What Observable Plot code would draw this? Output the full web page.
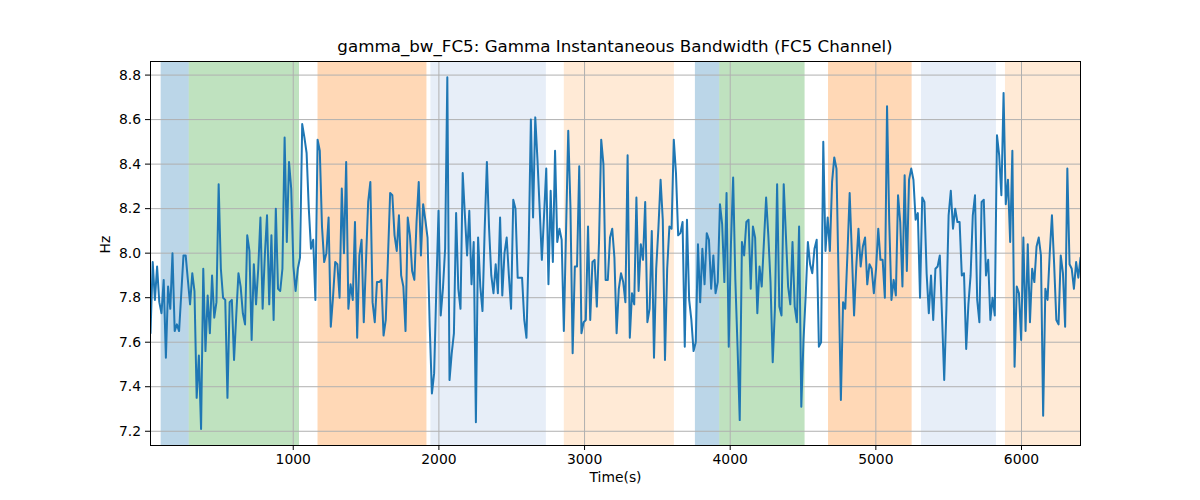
<!DOCTYPE html>
<html><head><meta charset="utf-8">
<script src="https://cdn.jsdelivr.net/npm/d3@7"></script>
<script src="https://cdn.jsdelivr.net/npm/@observablehq/plot@0.6"></script>
<style>
body{margin:0;background:#fff;font-family:"DejaVu Sans",sans-serif;}
#title{position:absolute;top:36px;left:0;width:1200px;box-sizing:border-box;padding-left:30px;text-align:center;font-size:16.7px;line-height:20px;color:#000;z-index:2;}
#chart{position:absolute;top:50px;left:0;z-index:1;}
</style></head><body>
<div id="chart"></div>
<div id="title">gamma_bw_FC5: Gamma Instantaneous Bandwidth (FC5 Channel)</div>
<script>
// Sampling grid (seconds)
const tStart = 20;
const tStep = 15.095;

// Gamma instantaneous bandwidth values (Hz)
const values = [
// 20 .. ~1060
7.64, 7.96, 7.79, 7.94, 7.78, 7.73, 7.88, 7.53, 7.85, 7.75, 8.00, 7.65, 7.68, 7.65, 7.82, 7.99, 7.99, 7.88, 7.77, 7.91,
7.83, 7.35, 7.54, 7.21, 7.93, 7.56, 7.81, 7.64, 7.90, 7.71, 7.78, 8.31, 7.93, 7.80, 7.79, 7.35, 7.78, 7.79, 7.52, 7.72,
7.91, 7.85, 7.73, 7.68, 8.08, 8.01, 7.61, 7.95, 7.77, 7.93, 8.16, 7.75, 7.99, 8.17, 7.77, 8.08, 7.70, 8.20, 7.84, 7.83,
7.93, 8.52, 8.05, 8.41, 8.29, 7.94, 7.83, 7.93, 7.98,
// ~1080 .. ~2130
8.58, 8.52, 8.45, 8.20, 8.02, 8.06, 7.79, 8.51, 8.46, 8.12, 7.96, 8.00, 8.16, 7.67, 7.80, 7.96, 7.95, 7.80, 8.29, 8.00,
8.41, 7.75, 7.86, 7.79, 8.14, 7.62, 7.99, 8.06, 7.69, 7.96, 8.23, 8.32, 7.78, 7.69, 7.87, 7.87, 7.88, 7.63, 7.70, 7.98,
8.27, 8.26, 8.08, 8.01, 8.17, 7.90, 7.85, 7.65, 8.16, 8.08, 7.92, 7.88, 8.14, 8.32, 7.99, 8.22, 8.15, 8.07, 7.67, 7.37,
7.46, 7.84, 8.19, 7.72, 7.84, 8.02, 8.79, 7.43, 7.55, 7.64,
// ~2150 .. ~3200
8.18, 7.84, 7.75, 8.36, 8.17, 7.99, 8.19, 7.86, 8.05, 7.24, 8.07, 7.85, 7.74, 8.11, 8.41, 8.11, 7.90, 7.82, 7.95, 7.82,
8.16, 7.81, 8.00, 8.07, 7.90, 7.75, 8.24, 8.20, 7.89, 7.89, 7.89, 7.70, 7.62, 8.02, 8.60, 8.16, 8.61, 8.42, 8.20, 7.97,
8.17, 8.38, 7.86, 8.28, 7.96, 8.46, 8.05, 8.11, 8.06, 7.65, 8.10, 8.55, 8.21, 7.55, 7.94, 7.94, 8.39, 7.64, 7.69, 7.70,
8.12, 7.70, 7.96, 7.97, 7.76, 8.05, 8.51, 8.40, 7.88, 7.88, 8.07,
// ~3210 .. ~4260
8.11, 7.98, 7.64, 7.84, 7.91, 7.87, 7.78, 8.44, 7.62, 7.82, 7.77, 8.25, 7.83, 8.04, 7.97, 8.23, 7.69, 7.75, 8.10, 7.53,
7.93, 8.11, 8.33, 8.15, 7.52, 7.93, 8.12, 8.11, 8.51, 8.36, 8.08, 8.09, 8.14, 7.58, 8.15, 7.79, 7.70, 7.56, 7.60, 8.04,
7.78, 8.02, 7.86, 8.09, 8.06, 7.84, 7.99, 7.82, 7.87, 8.22, 8.13, 7.87, 8.27, 7.58, 8.04, 8.34, 7.88, 7.58, 7.25, 8.05,
7.99, 8.14, 8.15, 7.84, 8.12, 8.07, 7.73, 7.94, 7.85, 8.05, 8.25,
// ~4280 .. ~5330
8.08, 7.87, 7.51, 7.75, 8.31, 7.76, 7.72, 8.31, 8.08, 7.85, 7.77, 8.05, 7.76, 7.69, 8.12, 7.31, 7.61, 7.81, 8.05, 7.95,
7.91, 8.02, 8.06, 7.58, 7.60, 8.50, 8.01, 8.16, 8.01, 8.32, 8.43, 8.38, 7.86, 7.34, 7.78, 7.75, 8.00, 8.27, 8.00, 7.72,
7.94, 8.11, 7.94, 8.03, 8.07, 7.86, 7.95, 7.93, 7.82, 7.93, 8.11, 7.97, 7.97, 7.80, 8.66, 8.14, 7.79, 7.88, 7.81, 8.26,
8.14, 7.85, 8.35, 7.92, 8.33, 8.38, 8.33, 8.15, 8.18, 7.80, 8.25,
// ~5340 .. 6405
8.23, 7.91, 7.73, 7.90, 7.70, 7.93, 7.94, 7.99, 7.72, 7.43, 7.75, 8.17, 8.28, 8.11, 8.20, 8.14, 8.14, 7.90, 7.91, 7.57,
7.77, 7.90, 8.17, 8.26, 7.79, 7.69, 8.23, 8.24, 7.90, 7.97, 7.70, 7.80, 7.72, 8.53, 8.44, 8.26, 8.72, 8.22, 8.33, 8.05,
8.46, 7.49, 7.85, 7.82, 7.61, 8.07, 7.65, 8.04, 7.69, 7.93, 7.87, 8.03, 8.07, 7.99, 7.27, 7.84, 7.79, 8.00, 8.17, 7.95,
7.70, 7.68, 7.99, 7.91, 7.67, 8.38, 7.95, 7.93, 7.84, 7.96, 7.89, 7.98
];

// Shaded phases
const spanStart = [93, 286, 1170, 1945, 2861, 3761, 3928, 4675, 5313, 5890];
const spanEnd   = [286, 1043, 1918, 2738, 3617, 3928, 4514, 5249, 5828, 6450];
const spanColor = ["#1f77b4", "#2ca02c", "#ff7f0e", "#aec7e8", "#ffbb78",
                   "#1f77b4", "#2ca02c", "#ff7f0e", "#aec7e8", "#ffbb78"];

const xTicks = [1000, 2000, 3000, 4000, 5000, 6000];
const yTicks = [7.2, 7.4, 7.6, 7.8, 8.0, 8.2, 8.4, 8.6, 8.8];
const xDomain = [20, 6405];
const yDomain = [7.136, 8.861];

const series = values.map((v, i) => ({t: tStart + i * tStep, v}));
const spans = spanStart.map((s, i) => ({start: s, end: spanEnd[i], color: spanColor[i]}));

const chart = Plot.plot({
  width: 1200,
  height: 450,
  marginLeft: 150,
  marginRight: 120,
  marginTop: 11,
  marginBottom: 55,
  style: {fontFamily: "DejaVu Sans", fontSize: "13.9px", background: "transparent", color: "black", overflow: "visible"},
  x: {domain: xDomain},
  y: {domain: yDomain},
  color: {type: "identity"},
  marks: [
    Plot.rect(spans, {x1: "start", x2: "end", fill: "color", fillOpacity: 0.3, clip: true}),
    Plot.gridX(xTicks, {stroke: "#b0b0b0", strokeOpacity: 1, strokeWidth: 1}),
    Plot.gridY(yTicks, {stroke: "#b0b0b0", strokeOpacity: 1, strokeWidth: 1}),
    Plot.line(series, {x: "t", y: "v", stroke: "#1f77b4", strokeWidth: 2, clip: true}),
    Plot.frame({stroke: "black", strokeWidth: 1}),
    Plot.axisX(xTicks, {tickSize: 5, tickPadding: 4, tickFormat: d => String(d), label: null}),
    Plot.axisY(yTicks, {tickSize: 5, tickPadding: 4.5, tickFormat: d => d.toFixed(1), label: null}),
    Plot.text(["Time(s)"], {frameAnchor: "bottom", dy: 36, text: d => d, fill: "black"}),
    Plot.text(["Hz"], {frameAnchor: "left", dx: -45, rotate: -90, text: d => d, fill: "black"})
  ]
});
document.getElementById("chart").appendChild(chart);
</script>
</body></html>
